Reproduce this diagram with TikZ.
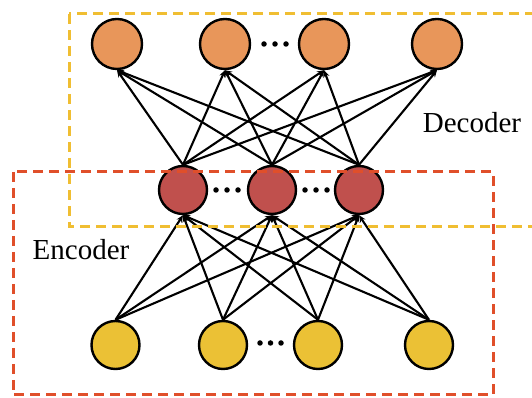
\documentclass[tikz,border=0pt]{standalone}
\usepackage{fontspec}
\setmainfont{Liberation Serif}
\usetikzlibrary{arrows.meta}
\definecolor{decfill}{HTML}{E8965A}
\definecolor{hidfill}{HTML}{C0504D}
\definecolor{encfill}{HTML}{EBC135}
\definecolor{yelbox}{HTML}{F0BE32}
\definecolor{redbox}{HTML}{E04F2A}
\tikzset{
  neuron/.style={circle,draw=black,line width=2.4pt,minimum size=#1,inner sep=0pt},
  decn/.style={neuron=50pt,fill=decfill},
  hidn/.style={neuron=48pt,fill=hidfill},
  encn/.style={neuron=48pt,fill=encfill},
  conn/.style={line width=2.1pt,-{Stealth[length=7pt,width=6pt]}},
  dotc/.style={circle,fill=black,inner sep=0pt,minimum size=5.5pt},
  boxy/.style={draw=yelbox,line width=3pt,dash pattern=on 10pt off 6pt},
  boxr/.style={draw=redbox,line width=3pt,dash pattern=on 10pt off 6pt},
  lbl/.style={font=\fontsize{29}{32}\selectfont,inner sep=0pt}
}
\begin{document}
\begin{tikzpicture}[x=1pt,y=1pt]
\useasboundingbox (0,0) rectangle (532,398);
\clip (0,0) rectangle (532,398);
% decoder (top) layer
\node[decn] (d1) at (117,354) {};
\node[decn] (d2) at (225,354) {};
\node[decn] (d3) at (324,354) {};
\node[decn] (d4) at (437,354) {};
% hidden layer
\node[hidn] (h1) at (183,208) {};
\node[hidn] (h2) at (272,208) {};
\node[hidn] (h3) at (359,208) {};
% encoder (bottom) layer
\node[encn] (e1) at (115.5,53) {};
\node[encn] (e2) at (223,53) {};
\node[encn] (e3) at (318,53) {};
\node[encn] (e4) at (429,53) {};
% dots
\foreach \n/\x/\y in {ta/264/354,tb/275/354,tc/286/354,
                      ha/216/208,hb/227/208,hc/238/208,
                      ia/305/208,ib/316/208,ic/327/208,
                      ba/260/55,bb/270.5/55,bc/281/55}
  \node[dotc] (dot\n) at (\x,\y) {};
% connections
\foreach \h in {h1,h2,h3}{
  \foreach \e in {e1,e2,e3,e4}
    \draw[conn] (\e.north) -- (\h.south);
  \foreach \d in {d1,d2,d3,d4}
    \draw[conn] (\h.north) -- (\d.south);
}
% dashed boxes
\coordinate (ytl) at (69,384);
\coordinate (ybr) at (545,171);
\draw[boxy] (ytl) rectangle (ybr);
\coordinate (rtl) at (13,226);
\coordinate (rbr) at (493,3);
\draw[boxr] (rtl) rectangle (rbr);
% labels
\node[lbl] (enc) at (81,148) {Encoder};
\node[lbl] (dec) at (472,275) {Decoder};
\end{tikzpicture}
\end{document}
